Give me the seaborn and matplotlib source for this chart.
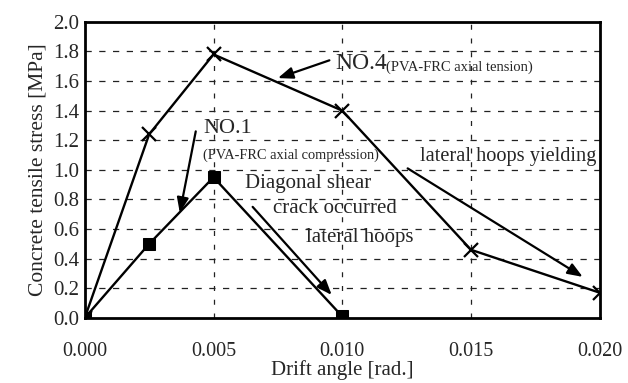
import numpy as np
import pandas as pd
import matplotlib
matplotlib.use("Agg")
import matplotlib.pyplot as plt
import seaborn as sns

# Data
drift_no4 = [0.0, 0.0025, 0.005, 0.010, 0.015, 0.020]
stress_no4 = [0.0, 1.24, 1.78, 1.40, 0.46, 0.17]
drift_no1 = [0.0, 0.0025, 0.005, 0.010]
stress_no1 = [0.0, 0.50, 0.95, 0.01]

x_ticks = [0.000, 0.005, 0.010, 0.015, 0.020]
y_ticks = [0.0, 0.2, 0.4, 0.6, 0.8, 1.0, 1.2, 1.4, 1.6, 1.8, 2.0]

df4 = pd.DataFrame({"drift": drift_no4, "stress": stress_no4})
df1 = pd.DataFrame({"drift": drift_no1, "stress": stress_no1})

sns.set_style("white")
plt.rcParams['font.family'] = ['Liberation Serif', 'DejaVu Serif']

fig = plt.figure(figsize=(6.28, 3.83), dpi=100)
ax = fig.add_axes([0.135, 0.170, 0.820, 0.773])

sns.lineplot(data=df4, x="drift", y="stress", ax=ax, color="black", lw=1.7,
             marker="x", markersize=10, markeredgewidth=1.6, markeredgecolor="black")
sns.lineplot(data=df1, x="drift", y="stress", ax=ax, color="black", lw=1.7,
             marker="s", markersize=9, markeredgecolor="black", markerfacecolor="black")

ax.set_xlim(0, 0.020)
ax.set_ylim(0, 2.0)
ax.set_xticks(x_ticks)
ax.set_xticklabels([f"{v:.3f}" for v in x_ticks], fontsize=14.5)
ax.set_yticks(y_ticks)
ax.set_yticklabels([f"{v:.1f}" for v in y_ticks], fontsize=15)
ax.tick_params(axis="x", pad=17, length=0)
ax.tick_params(axis="y", pad=4, length=0)

# dashed grid
for xv in x_ticks[1:-1]:
    ax.axvline(xv, color="#222222", lw=0.9, ls=(0, (4, 7)), zorder=0)
for yv in y_ticks[1:-1]:
    ax.axhline(yv, color="#222222", lw=0.9, ls=(0, (5, 6)), zorder=0)

for s in ax.spines.values():
    s.set_linewidth(2)
    s.set_color("black")

ax.set_xlabel("Drift angle [rad.]", fontsize=15, labelpad=0)
ax.set_ylabel("Concrete tensile stress [MPa]", fontsize=15.5, labelpad=4)

arrow = dict(arrowstyle="-|>,head_length=0.9,head_width=0.35", color="black", lw=1.6,
             shrinkA=0, shrinkB=0)

# NO.4 label
ax.annotate("", xy=(0.0075, 1.62), xytext=(0.0095, 1.74), arrowprops=arrow)
ax.text(0.00975, 1.72, "NO.4", fontsize=17, va="center", ha="left")
ax.text(0.01169, 1.695, "(PVA-FRC axial tension)", fontsize=10.5, va="center", ha="left")

# NO.1 label
ax.annotate("", xy=(0.00369, 0.71), xytext=(0.00431, 1.26), arrowprops=arrow)
ax.text(0.00459, 1.28, "NO.1", fontsize=16, va="center", ha="left")
ax.text(0.00459, 1.10, "(PVA-FRC axial compression)", fontsize=10.4, va="center", ha="left")

# Diagonal shear crack
ax.text(0.00621, 0.91, "Diagonal shear", fontsize=15, va="center", ha="left")
ax.text(0.00730, 0.74, "crack occurred", fontsize=15, va="center", ha="left")
ax.text(0.00858, 0.545, "lateral hoops", fontsize=15, va="center", ha="left")
ax.annotate("", xy=(0.00959, 0.155), xytext=(0.00652, 0.75), arrowprops=arrow)

# lateral hoops yielding
ax.text(0.01301, 1.09, "lateral hoops yielding", fontsize=14.7, va="center", ha="left")
ax.annotate("", xy=(0.01934, 0.277), xytext=(0.01254, 1.01), arrowprops=arrow)

fig.savefig("out.png", dpi=100)
